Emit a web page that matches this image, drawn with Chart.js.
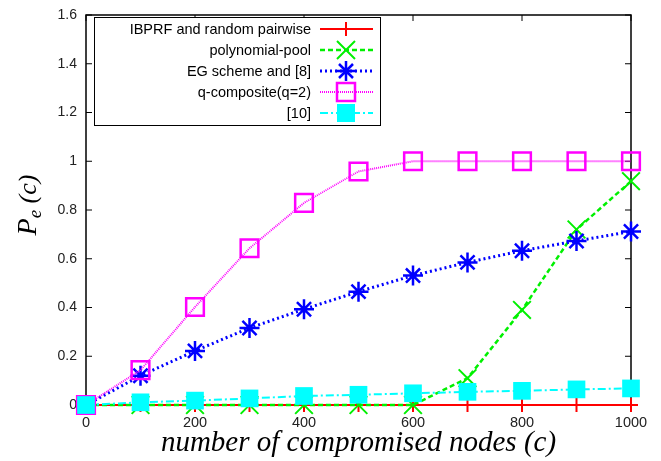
<!DOCTYPE html>
<html>
<head>
<meta charset="utf-8">
<script src="https://cdn.jsdelivr.net/npm/chart.js@4/dist/chart.umd.min.js"></script>
<style>
  html, body { margin: 0; padding: 0; background: #fff; }
  #chart { display: block; }
</style>
</head>
<body>
<canvas id="chart" width="661" height="461"></canvas>
<script>
// data
const nodes = [0, 100, 200, 300, 400, 500, 600, 700, 800, 900, 1000];
const ibprf = [0, 0, 0, 0, 0, 0, 0, 0, 0, 0, 0];
const polyPool = [0, 0, 0, 0, 0, 0, 0, 0.11, 0.39, 0.72, 0.918];
const egScheme = [0, 0.12, 0.222, 0.316, 0.393, 0.465, 0.531, 0.585, 0.633, 0.673, 0.712];
const qComposite = [0, 0.143, 0.402, 0.643, 0.829, 0.958, 1, 1, 1, 1, 1];
const ref10 = [0, 0.011, 0.018, 0.027, 0.037, 0.042, 0.048, 0.054, 0.058, 0.064, 0.068];

const seriesLabels = ["IBPRF and random pairwise", "polynomial-pool", "EG scheme and [8]", "q-composite(q=2)", "[10]"];
const xTicks = [0, 200, 400, 600, 800, 1000];
const yTicks = [0, 0.2, 0.4, 0.6, 0.8, 1, 1.2, 1.4, 1.6];

const pts = (vals) => nodes.map((x, i) => ({ x: x, y: vals[i] }));

const datasets = [
    { label: seriesLabels[0], data: pts(ibprf), borderColor: "#ff0000", backgroundColor: "#ff0000",
      borderWidth: 2, borderDash: [], pointStyle: "cross", pointRadius: 7, pointBorderWidth: 2, order: 5 },
    { label: seriesLabels[1], data: pts(polyPool), borderColor: "#00f000", backgroundColor: "#00f000",
      borderWidth: 2.5, borderDash: [5, 3], pointStyle: "crossRot", pointRadius: 12.5, pointBorderWidth: 2, order: 4 },
    { label: seriesLabels[2], data: pts(egScheme), borderColor: "#0000ff", backgroundColor: "#0000ff",
      borderWidth: 3, borderDash: [2, 3], pointStyle: "star", pointRadius: 10, pointBorderWidth: 2.5, order: 3 },
    { label: seriesLabels[3], data: pts(qComposite), borderColor: "#ff00ff", backgroundColor: "rgba(0,0,0,0)",
      borderWidth: 2, borderDash: [1, 1], pointStyle: "rect", pointRadius: 12.5, pointBorderWidth: 2.5, order: 2 },
    { label: seriesLabels[4], data: pts(ref10), borderColor: "#00ffff", backgroundColor: "#00ffff",
      borderWidth: 2, borderDash: [8, 3, 2, 3], pointStyle: "rect", pointRadius: 12.5, pointBorderWidth: 0, order: 1 },
];
datasets.forEach(d => { d.showLine = true; d.clip = false; d.tension = 0; });

const fmt = (v) => String(Math.round(v * 10) / 10);

// frame with inward ticks on all four sides, gnuplot style
const framePlugin = {
    id: "frame",
    beforeDatasetsDraw(chart) {
        const { ctx, chartArea: a, scales } = chart;
        ctx.save();
        ctx.strokeStyle = "#000";
        ctx.lineWidth = 1.5;
        ctx.strokeRect(a.left, a.top, a.right - a.left, a.bottom - a.top);
        ctx.lineWidth = 1;
        ctx.beginPath();
        xTicks.forEach(v => {
            const x = scales.x.getPixelForValue(v);
            ctx.moveTo(x, a.bottom); ctx.lineTo(x, a.bottom - 6);
            ctx.moveTo(x, a.top); ctx.lineTo(x, a.top + 6);
        });
        yTicks.forEach(v => {
            const y = scales.y.getPixelForValue(v);
            ctx.moveTo(a.left, y); ctx.lineTo(a.left + 6, y);
            ctx.moveTo(a.right, y); ctx.lineTo(a.right - 6, y);
        });
        ctx.stroke();
        ctx.restore();
    },
};

function legendMarker(ctx, style, x, y) {
    ctx.beginPath();
    if (style === "cross") {
        ctx.moveTo(x - 7, y); ctx.lineTo(x + 7, y);
        ctx.moveTo(x, y - 7); ctx.lineTo(x, y + 7);
        ctx.stroke();
    } else if (style === "crossRot") {
        ctx.moveTo(x - 9, y - 9); ctx.lineTo(x + 9, y + 9);
        ctx.moveTo(x - 9, y + 9); ctx.lineTo(x + 9, y - 9);
        ctx.stroke();
    } else if (style === "star") {
        ctx.moveTo(x - 10, y); ctx.lineTo(x + 10, y);
        ctx.moveTo(x, y - 10); ctx.lineTo(x, y + 10);
        ctx.moveTo(x - 7, y - 7); ctx.lineTo(x + 7, y + 7);
        ctx.moveTo(x - 7, y + 7); ctx.lineTo(x + 7, y - 7);
        ctx.stroke();
    } else if (style === "rect") {
        ctx.rect(x - 9, y - 9, 18, 18);
        ctx.fill();
        ctx.stroke();
    }
}

const legendPlugin = {
    id: "boxLegend",
    afterDraw(chart) {
        const ctx = chart.ctx;
        ctx.save();
        ctx.fillStyle = "#fff";
        ctx.fillRect(94, 17, 286, 108);
        ctx.strokeStyle = "#000";
        ctx.lineWidth = 1;
        ctx.strokeRect(94.5, 17.5, 286, 108);
        ctx.font = "14.5px 'Liberation Sans', Arial, sans-serif";
        ctx.textAlign = "right";
        ctx.textBaseline = "middle";
        chart.data.datasets.forEach((d, i) => {
            const y = 29 + i * 21;
            ctx.fillStyle = "#000";
            ctx.fillText(d.label, 311, y + 1);
            ctx.strokeStyle = d.borderColor;
            ctx.lineWidth = d.borderWidth;
            ctx.setLineDash(d.borderDash);
            ctx.beginPath();
            ctx.moveTo(320, y); ctx.lineTo(373, y);
            ctx.stroke();
            ctx.setLineDash([]);
            ctx.lineWidth = d.pointBorderWidth || 0.01;
            ctx.fillStyle = d.backgroundColor;
            legendMarker(ctx, d.pointStyle, 346, y);
        });
        ctx.restore();
    },
};

const titlePlugin = {
    id: "axisTitles",
    afterDraw(chart) {
        const ctx = chart.ctx;
        const a = chart.chartArea;
        ctx.save();
        ctx.fillStyle = "#000";
        ctx.textBaseline = "alphabetic";
        ctx.textAlign = "center";
        ctx.font = "italic 29px 'Liberation Serif', 'Times New Roman', serif";
        ctx.fillText("number of compromised nodes (c)", (a.left + a.right) / 2, 451);

        // y title: P_e (c), rotated
        ctx.translate(36, 205);
        ctx.rotate(-Math.PI / 2);
        ctx.textAlign = "left";
        const bigFont = "italic 28px 'Liberation Serif', 'Times New Roman', serif";
        const subFont = "italic 19px 'Liberation Serif', 'Times New Roman', serif";
        const parFont = "italic 26px 'Liberation Serif', 'Times New Roman', serif";
        ctx.font = bigFont;
        const wP = ctx.measureText("P").width;
        ctx.font = subFont;
        const wE = ctx.measureText("e").width;
        ctx.font = parFont;
        const wC = ctx.measureText(" (c)").width;
        let x = -(wP + wE + wC) / 2;
        ctx.font = bigFont;
        ctx.fillText("P", x, 0);
        x += wP;
        ctx.font = subFont;
        ctx.fillText("e", x, 5);
        x += wE;
        ctx.font = parFont;
        ctx.fillText(" (c)", x, 0);
        ctx.restore();
    },
};

new Chart(document.getElementById("chart"), {
    type: "scatter",
    data: { datasets: datasets },
    options: {
        responsive: false,
        animation: false,
        layout: { padding: { top: 13, right: 30, left: 0, bottom: 0 } },
        plugins: {
            legend: { display: false },
            tooltip: { enabled: false },
        },
        scales: {
            x: {
                type: "linear",
                min: 0,
                max: 1000,
                afterFit(s) { s.height = 56; s.paddingLeft = 0; s.paddingRight = 0; },
                afterBuildTicks(s) { s.ticks = xTicks.map(v => ({ value: v })); },
                grid: { display: false },
                border: { display: false },
                ticks: { padding: 1, color: "#222", callback: fmt,
                         font: { family: "'Liberation Sans', Arial, sans-serif", size: 14.5 } },
            },
            y: {
                min: 0,
                max: 1.6,
                afterFit(s) { s.width = 86; s.paddingTop = 0; s.paddingBottom = 0; },
                afterBuildTicks(s) { s.ticks = yTicks.map(v => ({ value: v })); },
                grid: { display: false },
                border: { display: false },
                ticks: { padding: 1, color: "#222", callback: fmt,
                         font: { family: "'Liberation Sans', Arial, sans-serif", size: 14 } },
            },
        },
    },
    plugins: [framePlugin, legendPlugin, titlePlugin],
});
</script>
</body>
</html>
